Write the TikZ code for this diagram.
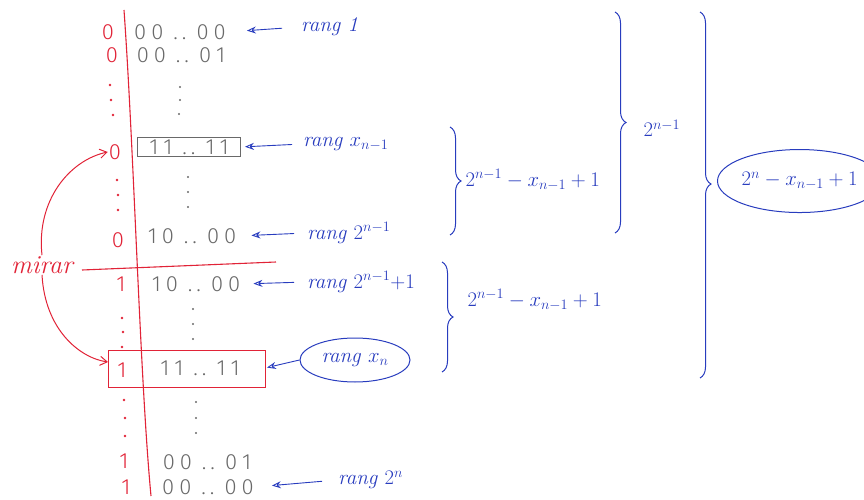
\documentclass[tikz,border=0pt]{standalone}
\usepackage{fontspec}
\setsansfont{Fira Sans Light}
\usetikzlibrary{arrows.meta,decorations.pathreplacing,shapes.geometric}
\definecolor{pen}{RGB}{40,60,190}
\definecolor{redpen}{RGB}{225,35,55}
\definecolor{graypen}{RGB}{105,105,105}
\newcommand\bitrow[4]{#1\hspace{5pt}#2\hspace{10pt}.\hspace{4pt}.\hspace{10pt}#3\hspace{5pt}#4}
\begin{document}
\begin{tikzpicture}[x=1pt,y=-1pt,
  bits/.style={text=graypen,font=\sffamily\fontsize{22}{22}\selectfont,inner sep=1pt},
  rbit/.style={text=redpen,font=\sffamily\fontsize{22}{22}\selectfont,inner sep=1pt},
  lbl/.style={text=pen,font=\itshape\fontsize{21}{21}\selectfont,inner sep=1pt,anchor=west},
  sumlbl/.style={text=pen,font=\fontsize{20}{20}\selectfont,inner sep=1pt},
  barrow/.style={pen,line width=0.9pt,-{Stealth[length=9pt,width=7pt,open]}},
  rarrow/.style={redpen,line width=1pt,-{Straight Barb[length=7pt,width=9pt]}},
  bbrace/.style={pen,line width=1pt,decorate,decoration={brace,amplitude=11pt}},
  rline/.style={redpen,line width=1.1pt},
]
\useasboundingbox (0,0) rectangle (864,500);
% red axes
\coordinate (vt) at (124,10);
\coordinate (vb) at (151,496);
\draw[rline] (vt) .. controls (134,150) and (140,380) .. (vb);
\coordinate (hl) at (82,270);
\coordinate (hr) at (276,262);
\draw[rline] (hl) -- (hr);
% red bits
\node[rbit] (r1) at (108,32) {0};
\node[rbit] (r2) at (112,55) {0};
\node[rbit] (r3) at (115,152) {0};
\node[rbit] (r4) at (118,240) {0};
\node[rbit] (r5) at (121,284) {1};
\node[rbit] (r6) at (122,370) {1};
\node[rbit] (r7) at (124,461) {1};
\node[rbit] (r8) at (126,487) {1};
\foreach \x/\y in {110/85,111/100,113/115,117/180,118/195,118/210,122/318,123/332,122/347,124/400,125/418,125/436}
  \fill[redpen] (\x,\y) circle (1.3pt);
% gray bit strings
\node[bits] (b1) at (180,32) {\bitrow0000};
\node[bits] (b2) at (181,55) {\bitrow0001};
\node[bits,draw=graypen,line width=0.9pt,inner xsep=4pt,inner ysep=2pt,minimum width=103pt] (b3) at (189,147) {\bitrow1111};
\node[bits] (b4) at (192,236) {\bitrow1000};
\node[bits] (b5) at (196,284) {\bitrow1000};
\node[bits] (b6) at (200,368) {\bitrow1111};
\node[bits] (b7) at (207,462) {\bitrow0001};
\node[bits] (b8) at (208,487) {\bitrow0000};
\foreach \x/\y in {180/87,180/100,179/114,188/177,188/192,188/207,193/309,193/324,193/339,196/402,196/418,196/433}
  \fill[graypen] (\x,\y) circle (1.1pt);
\draw[redpen,line width=1pt] (108,350) rectangle (265,387);
\coordinate (rbox) at (265,368);
% labels
\node[lbl] (l1) at (300,27) {rang 1};
\draw[barrow,shorten <=18pt,shorten >=20pt] (l1.west) -- (b1.east);
\node[lbl] (l2) at (302,144) {rang $x_{n-1}$};
\draw[barrow,shorten <=10pt,shorten >=4pt] (l2.west) -- (b3.east);
\node[lbl] (l3) at (306,233) {rang $2^{n-1}$};
\draw[barrow,shorten <=12pt,shorten >=14pt] (l3.west) -- (b4.east);
\node[lbl] (l4) at (306,282) {rang $2^{n-1}{+}1$};
\draw[barrow,shorten <=12pt,shorten >=12pt] (l4.west) -- (b5.east);
\node[lbl,draw=pen,ellipse,line width=1pt,inner sep=0pt,minimum width=110pt,minimum height=44pt,anchor=center] (l5) at (355,360) {rang $x_n$};
\draw[barrow,shorten >=2pt] (l5.west) -- (rbox);
\node[lbl] (l6) at (337,480) {rang $2^n$};
\draw[barrow,shorten <=15pt,shorten >=17pt] (l6.west) -- (b8.east);
% braces
\draw[bbrace] (450,127) -- (450,235) node[midway,right=14pt,sumlbl,yshift=1pt] (s1) {$2^{n-1} - x_{n-1} + 1$};
\draw[bbrace] (442,262) -- (442,372) node[midway,right=24pt,sumlbl,yshift=17pt] (s2) {$2^{n-1} - x_{n-1} + 1$};
\draw[bbrace] (615,12) -- (615,233) node[midway,right=27pt,sumlbl,yshift=-6pt] (s3) {$2^{n-1}$};
\draw[bbrace,decoration={brace,amplitude=11pt,aspect=0.47}] (700,12) -- (700,378) node[pos=0.47,right=17pt,sumlbl,yshift=3pt,draw=pen,ellipse,line width=1pt,inner sep=0pt,minimum width=152pt,minimum height=63pt] (s4) {$2^n - x_{n-1} + 1$};
% mirar
\node[text=redpen,font=\itshape\fontsize{26}{26}\selectfont,inner sep=1pt] (mir) at (42,265) {mirar};
\draw[rarrow] (mir.north) .. controls (36,200) and (70,160) .. (r3.west);
\draw[rarrow] (mir.south) .. controls (45,330) and (80,358) .. (108,362);
\end{tikzpicture}
\end{document}
